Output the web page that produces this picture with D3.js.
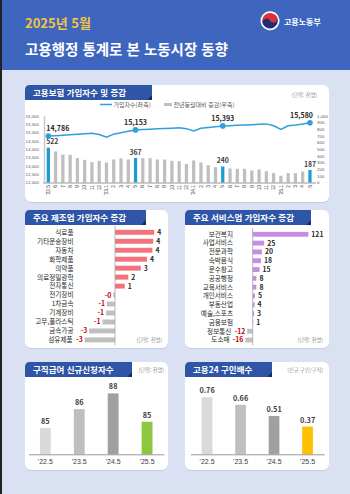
<!DOCTYPE html>
<html lang="ko">
<head>
<meta charset="UTF-8" />
<title>고용행정 통계로 본 노동시장 동향</title>
<style>
  html, body { margin: 0; padding: 0; background: #d9e1f2; }
  svg { display: block; font-family: "Noto Sans CJK KR", "Noto Sans", sans-serif; }
  .tick line { display: none; }
</style>
</head>
<body>
<div id="chart"></div>
<script src="https://d3js.org/d3.v7.min.js"></script>
<script>
// 데이터 ==========================================================
const months = ["'22.5","6","7","8","9","10","11","12","'23.1","2","3","4","5","6","7","8","9","10","11","12",
  "'24.1","2","3","4","5","6","7","8","9","10","11","12","'25.1","2","3","4","5"]
// 가입자수 (천명, 좌축)
const insured = [14786,14810,14840,14870,14900,14930,14950,14880,14710,14900,14990,15080,15153,15180,15200,15220,
  15240,15260,15280,15230,15090,15250,15300,15350,15393,15410,15430,15450,15470,15490,15515,15400,15180,15400,15450,15510,15580]
// 전년동월대비 증감 (천명, 우축)
const yoy = [522,465,420,415,365,340,305,325,300,345,360,345,367,365,365,345,345,325,320,280,
  330,300,260,230,240,210,205,205,180,195,170,140,100,140,140,165,187]
const highlight = [0, 12, 24, 36]

const mfgCats = ['식료품','기타운송장비','자동차','화학제품','의약품','의료정밀광학','전자통신','전기장비','1차금속','기계장비','고무,플라스틱','금속가공','섬유제품']
const mfgVals = [4.4, 4.3, 4.2, 3.6, 2.9, 1.5, 1.1, -0.2, -0.9, -1.0, -1.4, -2.9, -3.4]

const svcCats = ['보건복지','사업서비스','전문과학','숙박음식','운수창고','공공행정','교육서비스','개인서비스','부동산업','예술,스포츠','금융보험','정보통신','도소매']
const svcVals = [121, 25, 20, 18, 15, 8, 8, 5, 4, 3, 1, -12, -16]

const years = ["'22.5", "'23.5", "'24.5", "'25.5"]
const claims = [84.5, 86.3, 87.8, 85.1]      // 구직급여 신규신청자수 (천명)
const claimLabels = ['85', '86', '88', '85']
const jobRatio = [0.76, 0.66, 0.51, 0.37]    // 고용24 구인배수

const W = 350, H = 494
const svg = d3.select('#chart').append('svg').attr('width', W).attr('height', H)

// 배경 / 헤더 =======================================================
svg.append('rect').attr('width', W).attr('height', H).attr('fill', '#d9e1f2')
svg.append('rect').attr('width', W).attr('height', 70).attr('fill', '#3e66bf')
svg.append('rect').attr('width', 2).attr('height', H).attr('fill', '#222')

svg.append('text').attr('x', 25).attr('y', 27.5)
  .attr('fill', '#f4c244').attr('font-size', 13).attr('font-weight', 700)
  .text('2025년 5월')
svg.append('text').attr('x', 25).attr('y', 54.5)
  .attr('fill', '#fff').attr('font-size', 14.5).attr('font-weight', 700)
  .text('고용행정 통계로 본 노동시장 동향')

// 로고
const logo = svg.append('g').attr('transform', 'translate(270,20.7) rotate(-30)')
logo.append('circle').attr('r', 9.5).attr('fill', '#fff')
logo.append('path').attr('d', d3.arc()({innerRadius: 0, outerRadius: 7.8, startAngle: -Math.PI / 2, endAngle: Math.PI / 2})).attr('fill', '#d8323c')
logo.append('path').attr('d', d3.arc()({innerRadius: 0, outerRadius: 7.8, startAngle: Math.PI / 2, endAngle: Math.PI * 1.5})).attr('fill', '#1c2f6e')
logo.append('circle').attr('cx', -3.9).attr('r', 3.9).attr('fill', '#1c2f6e')
logo.append('circle').attr('cx', 3.9).attr('r', 3.9).attr('fill', '#d8323c')
svg.append('text').attr('x', 284).attr('y', 25)
  .attr('fill', '#fff').attr('font-size', 8).attr('font-weight', 700)
  .text('고용노동부')

// 패널 공통 ========================================================
const panel = (x, y, w, h, tabW, title) => {
  svg.append('rect').attr('x', x).attr('y', y + 1).attr('width', w).attr('height', h)
    .attr('rx', 6).attr('fill', '#c3cde2')
  svg.append('rect').attr('x', x).attr('y', y).attr('width', w).attr('height', h)
    .attr('rx', 6).attr('fill', '#fff')
  const th = 15
  svg.append('path')
    .attr('d', `M${x},${y + th}V${y + 5}Q${x},${y} ${x + 5},${y}H${x + tabW}V${y + th}Z`)
    .attr('fill', '#2e55a6')
  svg.append('path')
    .attr('d', `M${x + tabW - 5},${y + th}L${x + tabW},${y + th - 5}V${y + th}Z`)
    .attr('fill', '#1a2c60')
  svg.append('text').attr('x', x + 8).attr('y', y + 10.8)
    .attr('fill', '#fff').attr('font-size', 8.5).attr('font-weight', 700)
    .text(title)
}

const note = (x, y, t, anchor = 'end') => svg.append('text').attr('x', x).attr('y', y)
  .attr('text-anchor', anchor).attr('fill', '#8c8c8c').attr('font-size', 5.2).text(t)

// 1. 고용보험 가입자수 및 증감 ==========================================
panel(25, 85, 304, 117, 127, '고용보험 가입자수 및 증감')
note(317, 97, '(단위: 천명)')

// 범례
svg.append('line').attr('x1', 100).attr('x2', 112).attr('y1', 104.5).attr('y2', 104.5)
  .attr('stroke', '#2ea0da').attr('stroke-width', 1.5)
svg.append('text').attr('x', 113.5).attr('y', 106.5).attr('font-size', 6).attr('fill', '#595959').text('가입자수(좌축)')
svg.append('rect').attr('x', 164).attr('y', 103).attr('width', 8).attr('height', 3).attr('fill', '#bfbfbf')
svg.append('text').attr('x', 173.5).attr('y', 106.5).attr('font-size', 6).attr('fill', '#595959').text('전년동월대비 증감(우축)')

const x1 = d3.scaleBand().domain(d3.range(months.length)).range([42.7, 315.6]).padding(0.55)
const yL = d3.scaleLinear().domain([12000, 16000]).range([182.5, 115.8])
const yR = d3.scaleLinear().domain([0, 1000]).range([182.5, 115.8])
const cx = i => x1(i) + x1.bandwidth() / 2

const gL = svg.append('g').attr('transform', 'translate(44,0)')
  .call(d3.axisLeft(yL).tickValues(d3.range(12000, 16001, 500)).tickSize(0).tickPadding(5).tickFormat(d3.format(',')))
gL.select('.domain').attr('stroke', '#c8c8c8').attr('stroke-width', 1.5)
gL.selectAll('text').attr('font-size', 4.4).attr('fill', '#595959').attr('font-family', null)

const gR = svg.append('g').attr('transform', 'translate(314,0)')
  .call(d3.axisRight(yR).tickValues(d3.range(0, 1001, 100)).tickSize(0).tickPadding(3).tickFormat(d3.format(',')))
gR.select('.domain').remove()
gR.selectAll('text').attr('font-size', 4.4).attr('fill', '#595959').attr('font-family', null)

svg.append('g').selectAll('rect').data(yoy).join('rect')
  .attr('x', (d, i) => x1(i)).attr('width', x1.bandwidth())
  .attr('y', d => yR(d)).attr('height', d => yR(0) - yR(d))
  .attr('fill', (d, i) => highlight.includes(i) ? '#1f9ad8' : '#bfbfbf')

const gX = svg.append('g').attr('transform', 'translate(0,182.5)')
  .call(d3.axisBottom(x1).tickSize(0).tickFormat(i => months[i]))
gX.select('.domain').attr('stroke', '#7f7f7f').attr('stroke-width', 0.8)
gX.selectAll('text')
  .attr('transform', 'rotate(-90)').attr('text-anchor', 'end')
  .attr('x', -2.5).attr('y', 0).attr('dy', '0.35em')
  .attr('font-size', 4.8).attr('fill', '#404040').attr('font-family', null)

const barAnchor = ['start', 'middle', 'middle', 'middle']
svg.append('g').selectAll('text').data(highlight).join('text')
  .attr('x', (d, k) => k === 0 ? x1(d) - 0.5 : cx(d))
  .attr('y', d => yR(yoy[d]) - 3.5)
  .attr('text-anchor', (d, k) => barAnchor[k])
  .attr('font-size', 6.8).attr('font-weight', 700).attr('fill', '#404040')
  .text(d => yoy[d])

const line = d3.line().x((d, i) => cx(i)).y(d => yL(d))
svg.append('path').datum(insured).attr('d', line)
  .attr('fill', 'none').attr('stroke', '#2ea0da').attr('stroke-width', 1.5)
svg.append('g').selectAll('circle').data(highlight).join('circle')
  .attr('cx', d => cx(d)).attr('cy', d => yL(insured[d])).attr('r', 2.8).attr('fill', '#2ea0da')
const lineAnchor = ['start', 'middle', 'middle', 'end']
svg.append('g').selectAll('text').data(highlight).join('text')
  .attr('x', (d, k) => k === 0 ? cx(d) - 2 : k === 3 ? cx(d) + 3 : cx(d))
  .attr('y', d => yL(insured[d]) - 5)
  .attr('text-anchor', (d, k) => lineAnchor[k])
  .attr('font-size', 7).attr('font-weight', 700).attr('fill', '#262626')
  .text(d => d3.format(',')(insured[d]))

// 2, 3. 업종별 가로 막대 ============================================
const valText = d => d < 0 && Math.round(d) === 0 ? '-0' : String(Math.round(d))

const hbar = (cats, vals, xScale, yRange, labelX, posColor) => {
  const y = d3.scaleBand().domain(cats).range(yRange).padding(0.45)
  const x0 = xScale(0)
  const g = svg.append('g')
  g.selectAll('rect').data(vals).join('rect')
    .attr('x', d => Math.min(xScale(d), x0)).attr('width', d => Math.abs(xScale(d) - x0))
    .attr('y', (d, i) => y(cats[i])).attr('height', y.bandwidth())
    .attr('fill', d => d >= 0 ? posColor : '#bfbfbf')
  g.append('line').attr('x1', x0).attr('x2', x0)
    .attr('y1', yRange[0]).attr('y2', yRange[1] - 1)
    .attr('stroke', '#a6a6a6').attr('stroke-width', 0.8)
  // 음수 값 라벨과 겹치지 않도록 카테고리 라벨 위치 조정
  g.selectAll('text.cat').data(cats).join('text').attr('class', 'cat')
    .attr('x', (d, i) => {
      const v = vals[i]
      if (v >= 0) return labelX
      return Math.min(labelX, xScale(v) - 2 - valText(v).length * 3.6 - 3)
    })
    .attr('y', d => y(d) + y.bandwidth() / 2).attr('dy', '0.36em')
    .attr('text-anchor', 'end').attr('font-size', 6.6).attr('fill', '#262626')
    .text(d => d)
  g.selectAll('text.val').data(vals).join('text').attr('class', 'val')
    .attr('x', d => d >= 0 ? xScale(d) + 3 : xScale(d) - 2)
    .attr('y', (d, i) => y(cats[i]) + y.bandwidth() / 2).attr('dy', '0.36em')
    .attr('text-anchor', d => d >= 0 ? 'start' : 'end')
    .attr('font-size', 6.8).attr('font-weight', 700)
    .attr('fill', d => d >= 0 ? '#262626' : '#c00000')
    .text(valText)
}

panel(25, 210, 143, 138, 121, '주요 제조업 가입자수 증감')
hbar(mfgCats, mfgVals, d3.scaleLinear().domain([-4, 5]).range([115 - 4 * 8.9, 115 + 5 * 8.9]),
  [225.8, 346.4], 73.5, '#f2737b')
note(162, 342, '(단위: 천명)')

panel(185, 210, 144, 138, 126, '주요 서비스업 가입자수 증감')
hbar(svcCats, svcVals, d3.scaleLinear().domain([-20, 130]).range([252.7 - 20 * 0.46, 252.7 + 130 * 0.46]),
  [227.9, 346.4], 233, '#c58ee4')
note(323, 342, '(단위: 천명)')

// 4, 5. 세로 막대 ==================================================
const vbar = (vals, labels, range, yScale, colors) => {
  const x = d3.scaleBand().domain(years).range(range).paddingInner(0.68).paddingOuter(0.34)
  const g = svg.append('g')
  g.selectAll('rect').data(vals).join('rect')
    .attr('x', (d, i) => x(years[i])).attr('width', x.bandwidth())
    .attr('y', d => yScale(d)).attr('height', d => yScale.range()[0] - yScale(d))
    .attr('fill', (d, i) => colors[i])
  g.selectAll('text.v').data(vals).join('text').attr('class', 'v')
    .attr('x', (d, i) => x(years[i]) + x.bandwidth() / 2).attr('y', d => yScale(d) - 4)
    .attr('text-anchor', 'middle').attr('font-size', 7.3).attr('font-weight', 700).attr('fill', '#404040')
    .text((d, i) => labels[i])
  const ax = g.append('g').attr('transform', `translate(0,${yScale.range()[0]})`)
    .call(d3.axisBottom(x).tickSize(0).tickPadding(5))
  ax.select('.domain').attr('stroke', '#7f7f7f').attr('stroke-width', 0.8)
  ax.selectAll('text').attr('font-size', 7).attr('fill', '#404040').attr('font-family', null)
}

panel(25, 362, 143, 108, 107, '구직급여 신규신청자수')
note(164, 372, '(단위: 천명)')
vbar(claims, claimLabels, [28.4, 164], d3.scaleLinear().domain([82, 90]).range([454.3, 370.3]),
  ['#d9d9d9', '#bfbfbf', '#a0a0a0', '#8dc63f'])

panel(185, 362, 144, 108, 87, '고용24 구인배수')
note(323, 372, '(신규 구인/구직)')
vbar(jobRatio, jobRatio.map(d => d.toFixed(2)), [190.3, 324.3], d3.scaleLinear().domain([0, 1]).range([454.3, 379.3]),
  ['#d9d9d9', '#bfbfbf', '#a0a0a0', '#ffc000'])
</script>
</body>
</html>
